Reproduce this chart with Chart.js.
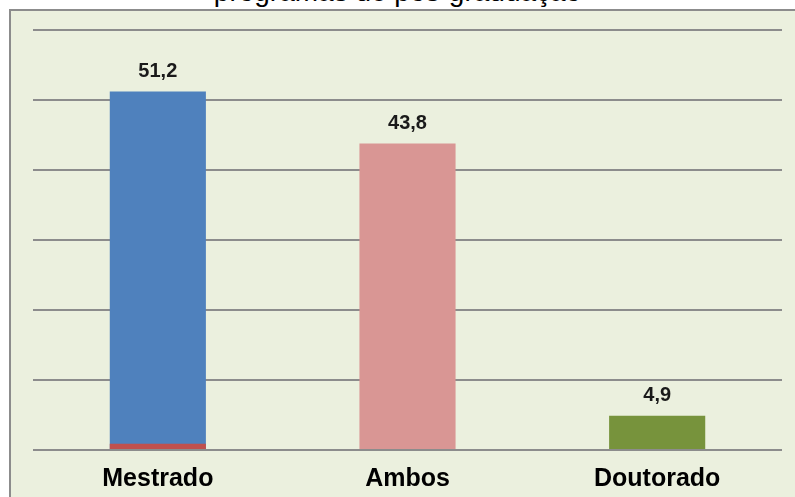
<!DOCTYPE html>
<html>
<head>
<meta charset="utf-8">
<script src="https://cdn.jsdelivr.net/npm/chart.js@4/dist/chart.umd.min.js"></script>
<style>
    html, body { margin: 0; padding: 0; background: #ffffff; overflow: hidden; }
    #wrap  { position: relative; width: 795px; height: 497px; overflow: hidden; }
    #panel { position: absolute; left: 9px; top: 9px; width: 800px; height: 500px;
             border: 2px solid #8c8c8c; background: #ebf0de; }
    #title { position: absolute; left: 0; width: 795px; top: -24px; text-align: center;
             font-family: "Liberation Sans", Arial, sans-serif; font-size: 28px; color: #000; }
    #chart { position: absolute; left: 0; top: 0; }
</style>
</head>
<body>
<div id="wrap">
    <div id="panel"></div>
    <div id="title">programas de pós-graduação</div>
    <canvas id="chart" width="795" height="520"></canvas>
</div>
<script>
// ─── DATA ─────────────────────────────────────────────────────
const categories = ["Mestrado", "Ambos", "Doutorado"];
const values     = [51.2, 43.8, 4.9];
const baseStrip  = [0.9, 0, 0];      // small red segment at the foot of Mestrado
const barColors  = ["#4f81bd", "#d99694", "#77933c"];
const yTicks     = [0, 10, 20, 30, 40, 50, 60];

const FONT = "'Liberation Sans', Arial, sans-serif";

// ─── VALUE LABELS ABOVE BARS ──────────────────────────────────
const valueLabels = {
    id: "valueLabels",
    afterDatasetsDraw(chart) {
        const ctx  = chart.ctx;
        const meta = chart.getDatasetMeta(1);
        ctx.save();
        ctx.font = "bold 20px " + FONT;
        ctx.fillStyle = "#1a1a1a";
        ctx.textAlign = "center";
        ctx.textBaseline = "middle";
        meta.data.forEach((bar, i) => {
            ctx.fillText(values[i].toFixed(1).replace(".", ","), bar.x, bar.y - 20);
        });
        ctx.restore();
    }
};

// ─── CHART ────────────────────────────────────────────────────
new Chart(document.getElementById("chart"), {
    type: "bar",
    data: {
        labels: categories,
        datasets: [
            {
                data: baseStrip,
                backgroundColor: "#c0504d",
                grouped: false,
                order: 0,
                categoryPercentage: 1,
                barPercentage: 0.385
            },
            {
                data: values,
                backgroundColor: barColors,
                grouped: false,
                order: 1,
                categoryPercentage: 1,
                barPercentage: 0.385
            }
        ]
    },
    options: {
        responsive: false,
        animation: false,
        events: [],
        layout: { padding: { left: 33, right: 13, top: 30, bottom: 20 } },
        plugins: {
            legend:  { display: false },
            tooltip: { enabled: false }
        },
        scales: {
            x: {
                grid:   { display: false },
                border: { display: false },
                ticks:  { color: "#000", padding: 6, font: { family: FONT, size: 25, weight: "bold" } }
            },
            y: {
                min: 0,
                max: 60,
                afterBuildTicks: axis => { axis.ticks = yTicks.map(v => ({ value: v })); },
                ticks:  { display: false },
                border: { display: false },
                grid:   { color: "#8c8c8c", lineWidth: 2, drawTicks: false }
            }
        }
    },
    plugins: [valueLabels]
});
</script>
</body>
</html>
